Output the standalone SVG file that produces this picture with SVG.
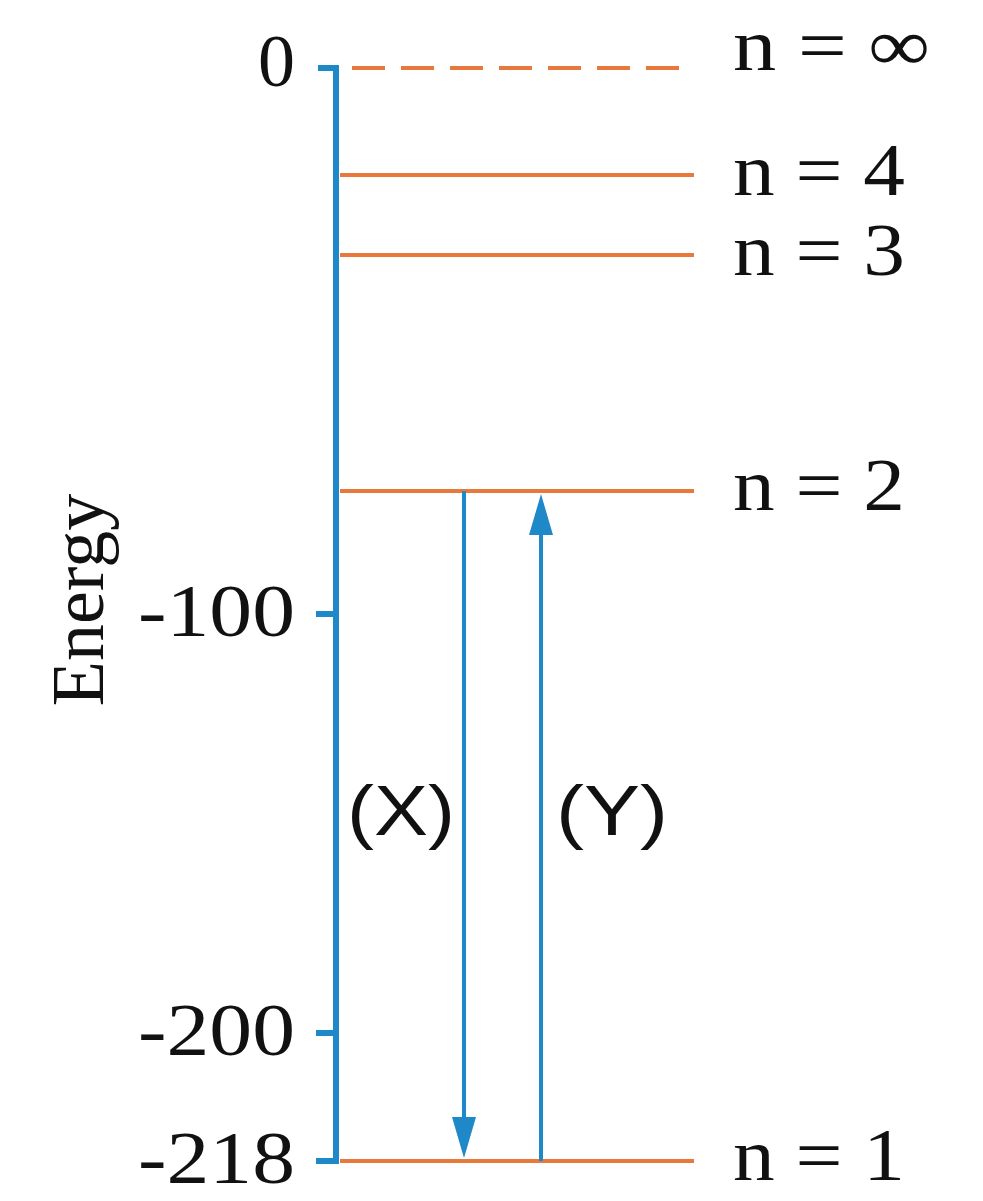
<svg xmlns="http://www.w3.org/2000/svg" width="983" height="1201" viewBox="0 0 983 1201">
<defs>
<style>
.ax{stroke:#1f88c8;stroke-width:6;fill:none}
.lv{stroke:#e8783c;stroke-width:4;fill:none}
.ar{stroke:#1f88c8;stroke-width:4;fill:none}
.ah{fill:#1f88c8}
.t{font-size:74px;fill:#111}
.s{font-size:70px;fill:#111}
</style>
</defs>
<rect width="983" height="1201" fill="#fff"/>
<g font-family="'Liberation Serif', 'Times New Roman', Times, serif">
<g id="axis">
<path class="ax" d="M318 68 H336 V1161 H316"/>
<path class="ax" d="M316 614 H336 M316 1033 H336"/>
<text class="t" x="295" y="86" text-anchor="end">0</text>
<text class="t" x="295" y="636" text-anchor="end" textLength="157" lengthAdjust="spacingAndGlyphs">-100</text>
<text class="t" x="295" y="1055" text-anchor="end" textLength="157" lengthAdjust="spacingAndGlyphs">-200</text>
<text class="t" x="295" y="1183" text-anchor="end" textLength="157" lengthAdjust="spacingAndGlyphs">-218</text>
<text class="t" transform="translate(103 600) rotate(-90)" text-anchor="middle">Energy</text>
</g>
<g id="level-inf">
<line class="lv" x1="352" y1="68" x2="694" y2="68" stroke-dasharray="33 16"/>
<text class="t" x="733" y="70" textLength="197" lengthAdjust="spacingAndGlyphs">n = ∞</text>
</g>
<g id="level-4">
<line class="lv" x1="340" y1="175" x2="694" y2="175"/>
<text class="t" x="733" y="195" textLength="172" lengthAdjust="spacingAndGlyphs">n = 4</text>
</g>
<g id="level-3">
<line class="lv" x1="340" y1="255" x2="694" y2="255"/>
<text class="t" x="733" y="275" textLength="172" lengthAdjust="spacingAndGlyphs">n = 3</text>
</g>
<g id="level-2">
<line class="lv" x1="340" y1="491" x2="694" y2="491"/>
<text class="t" x="733" y="510" textLength="172" lengthAdjust="spacingAndGlyphs">n = 2</text>
</g>
<g id="level-1">
<line class="lv" x1="340" y1="1161" x2="694" y2="1161"/>
<text class="t" x="733" y="1180" textLength="172" lengthAdjust="spacingAndGlyphs">n = 1</text>
</g>
</g>
<g id="connectors">
<g id="X">
<line class="ar" x1="464" y1="491" x2="464" y2="1120"/>
<polygon class="ah" points="452,1117 476,1117 464,1158"/>
</g>
<g id="Y">
<line class="ar" x1="541" y1="1161" x2="541" y2="532"/>
<polygon class="ah" points="529,535 553,535 541,494"/>
</g>
</g>
<g font-family="'Liberation Sans', Arial, Helvetica, sans-serif">
<text class="s" x="347" y="835" textLength="108" lengthAdjust="spacingAndGlyphs">(X)</text>
<text class="s" x="556" y="835" textLength="112" lengthAdjust="spacingAndGlyphs">(Y)</text>
</g>
</svg>
